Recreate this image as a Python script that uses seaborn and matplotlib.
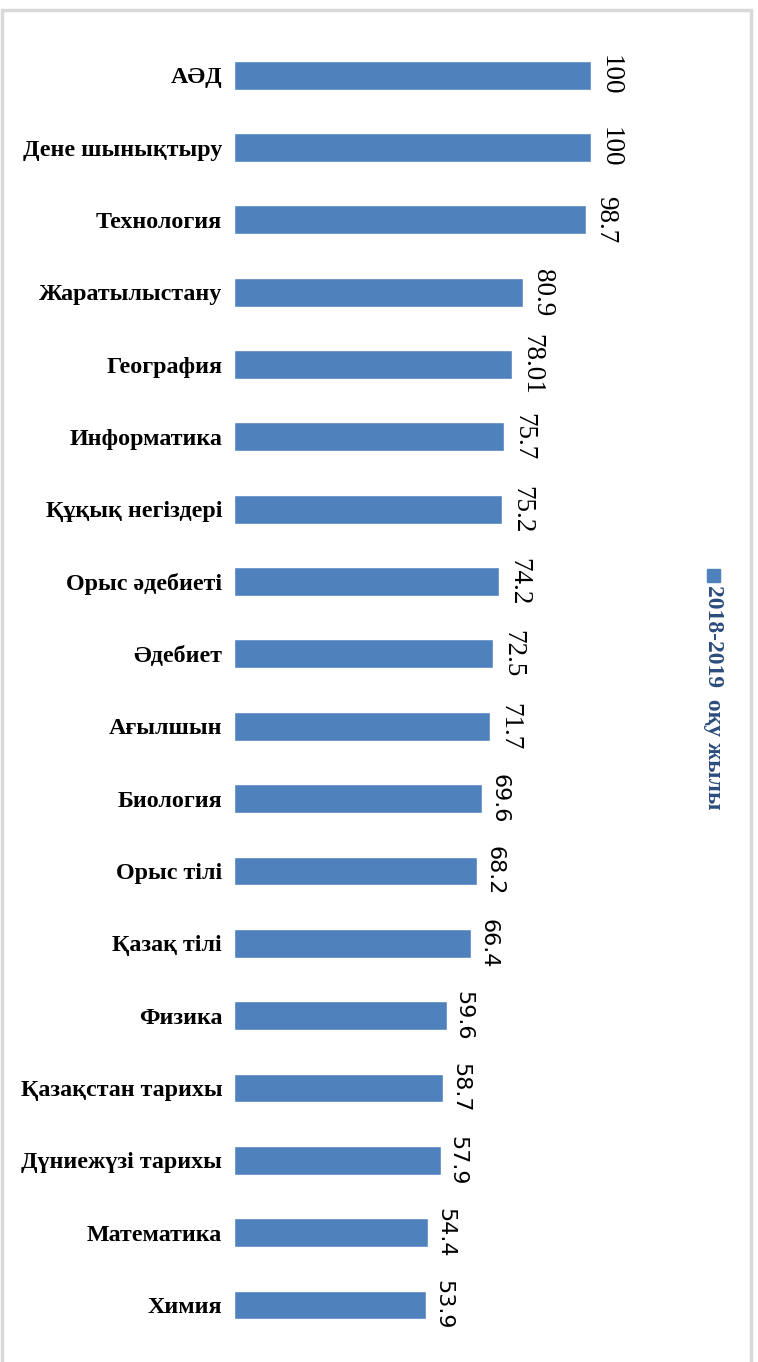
import numpy as np
import pandas as pd
import matplotlib.pyplot as plt
import seaborn as sns
from matplotlib.patches import Rectangle

# data
subjects = ["АӘД", "Дене шынықтыру", "Технология", "Жаратылыстану", "География",
            "Информатика", "Құқық негіздері", "Орыс әдебиеті", "Әдебиет", "Ағылшын",
            "Биология", "Орыс тілі", "Қазақ тілі", "Физика", "Қазақстан тарихы",
            "Дүниежүзі тарихы", "Математика", "Химия"]
value_labels = ["100", "100", "98.7", "80.9", "78.01", "75.7", "75.2", "74.2", "72.5",
                "71.7", "69.6", "68.2", "66.4", "59.6", "58.7", "57.9", "54.4", "53.9"]
values = [float(v) for v in value_labels]
series_name = "2018-2019  оқу жылы"

df = pd.DataFrame({"subject": subjects, "value": values})

sns.set_style("white")
plt.rcParams["font.family"] = ["Liberation Serif", "DejaVu Serif"]

bar_color = "#4F81BD"
fig = plt.figure(figsize=(7.58, 13.62), dpi=100)
ax = fig.add_axes([234 / 758, 0.0153, 446 / 758, 0.956])

sns.barplot(data=df, x="value", y="subject", color=bar_color, width=0.4,
            saturation=1, ax=ax, orient="h")
ax.set_xlim(0, 125)
ax.set_ylim(17.5, -0.5)
ax.set_xlabel("")
ax.set_ylabel("")
ax.set_xticks([])
ax.tick_params(axis="y", length=0, pad=8.5)
for lbl in ax.get_yticklabels():
    lbl.set_fontweight("bold")
    lbl.set_fontsize(17.3)
    lbl.set_color("black")
for s in ax.spines.values():
    s.set_visible(False)

# value labels, rotated to read top to bottom
for i, (v, txt) in enumerate(zip(values, value_labels)):
    fam = ["Liberation Serif"] if i < 10 else ["DejaVu Sans"]
    ax.text(v + 2.0, i, txt, rotation=270, ha="left", va="center",
            fontsize=19.5 if i < 10 else 16, family=fam, color="black")

# legend drawn vertically on the right
fig.add_artist(Rectangle((707 / 758, 1 - 582 / 1362), 13 / 758, 13 / 1362,
                         transform=fig.transFigure, color=bar_color))
fig.text(713.5 / 758, 1 - 585 / 1362, series_name, rotation=270, ha="center", va="top",
         fontsize=17, fontweight="bold", color="#2C4D7C")

# figure frame
fig.add_artist(Rectangle((1.5 / 758, -0.01), 749.5 / 758, 1 - 10 / 1362 + 0.01,
                         transform=fig.transFigure, fill=False,
                         edgecolor="#D9D9D9", linewidth=2.5))

fig.savefig("out.png", dpi=100)
